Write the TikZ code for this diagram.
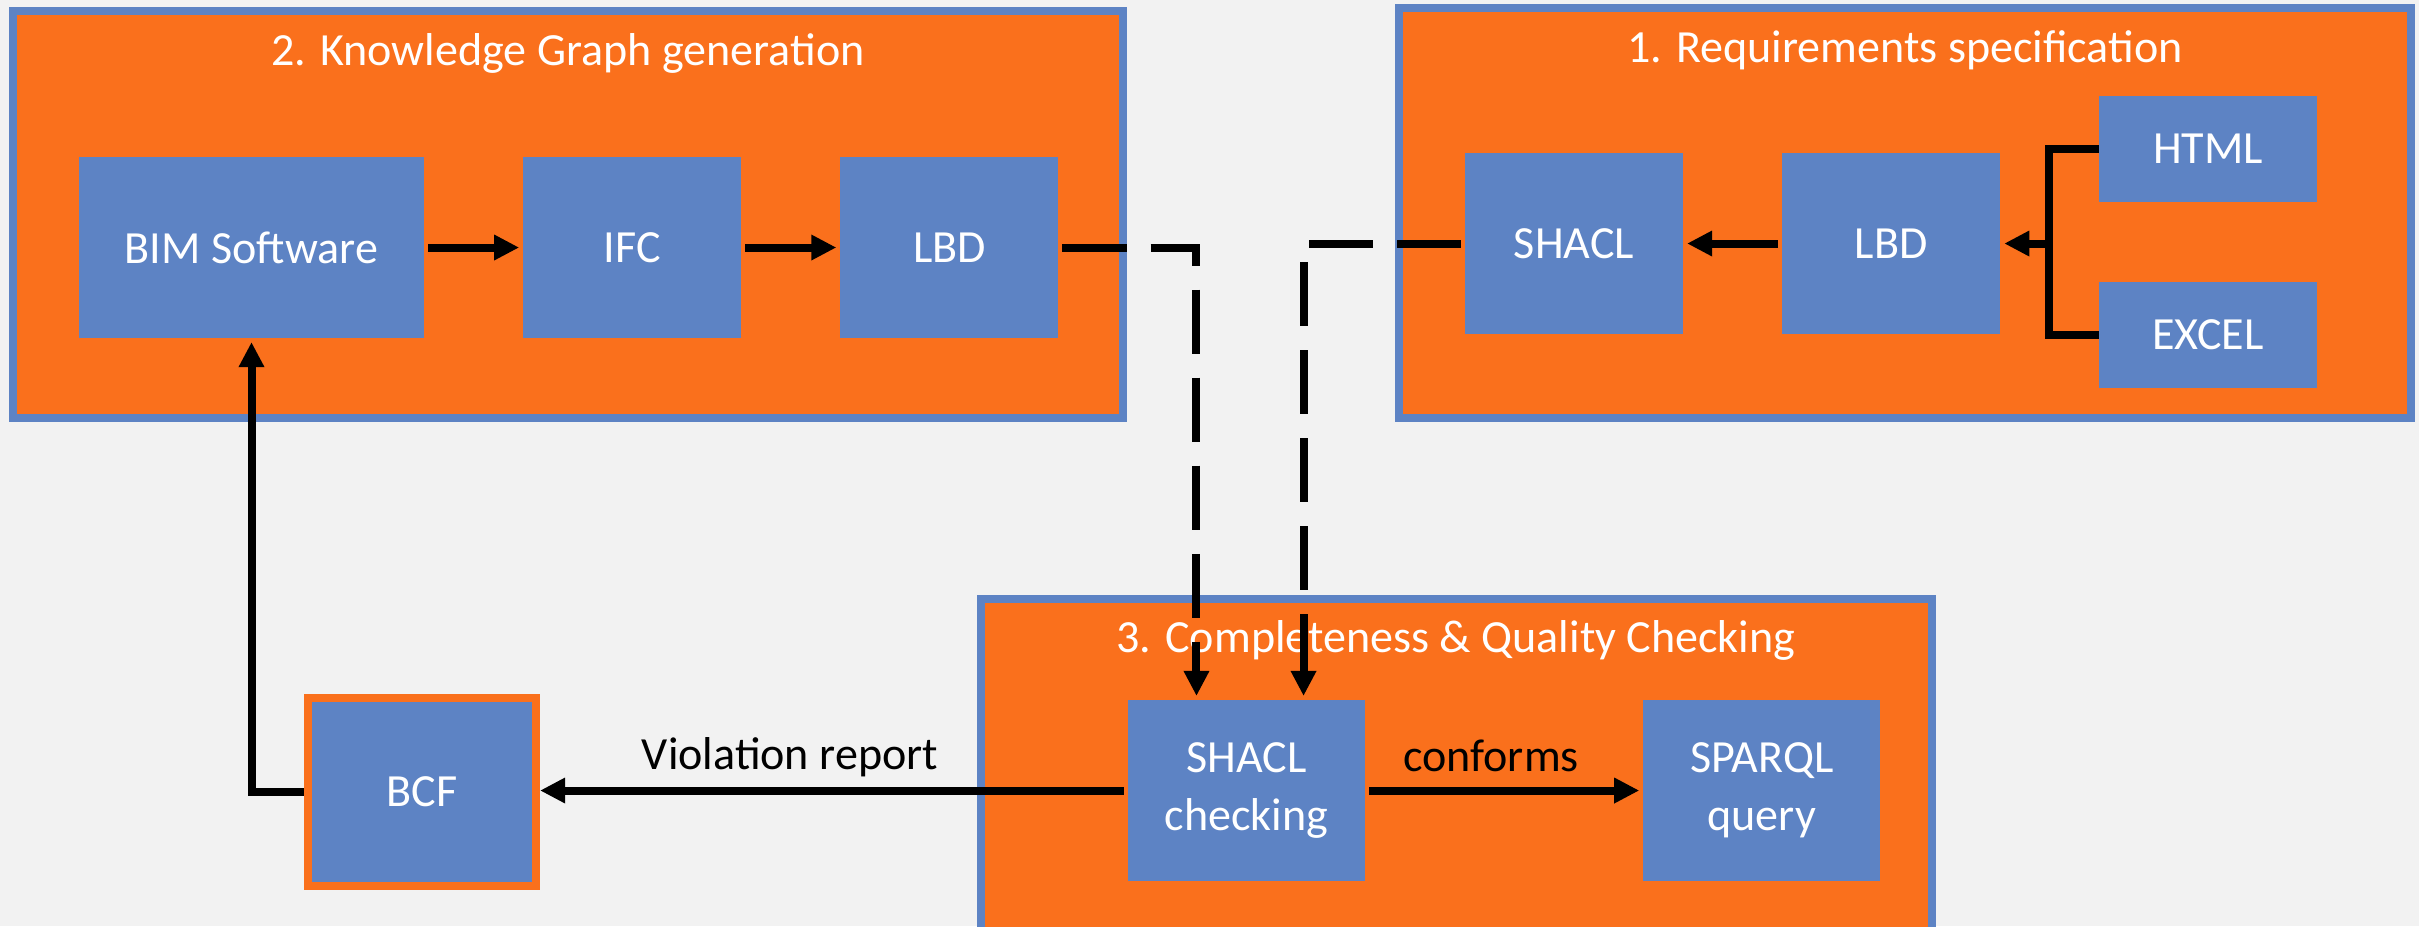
\documentclass[tikz,border=0pt]{standalone}
\usepackage{fontspec}
\setmainfont{Carlito}
\usepackage{xcolor}
\usepackage{tikz}
\usetikzlibrary{arrows.meta,positioning}
\definecolor{boxorange}{RGB}{250,112,28}
\definecolor{boxblue}{RGB}{93,131,196}
\definecolor{canvas}{RGB}{242,242,242}

\begin{document}
\begin{tikzpicture}[x = 0.01cm, y = -0.01cm, node distance = 0.99cm, font = \fontsize{13.1}{16.6}\selectfont]
        \tikzstyle{stage} = [rectangle, draw = boxblue, fill = boxorange, line width = 0.08cm, inner sep = 0]
        \tikzstyle{component} = [rectangle, fill = boxblue, text = white, align = center, inner sep = 0, outer sep = 0, minimum width = 2.18cm, minimum height = 1.81cm]
        \tikzstyle{stagetitle} = [text = white, anchor = base]
        \tikzstyle{flow} = [line width = 0.08cm, -{Triangle[length = 0.25cm, width = 0.24cm]}, shorten > = 0.04cm, shorten < = 0.04cm]
        \tikzstyle{link} = [flow, dash pattern = on 0.64cm off 0.24cm]
        \clip (0,0) rectangle (2419,926);
        \fill [canvas] (0,0) rectangle (2419,926);
        % stages
        \node at (568,214.5) (kgstage) [stage, minimum width = 11.10cm, minimum height = 4.07cm] {};
        \node at (1905,213) (reqstage) [stage, minimum width = 10.12cm, minimum height = 4.10cm] {};
        \node at (1456.5,799.5) (qcstage) [stage, minimum width = 9.51cm, minimum height = 4.01cm] {};
        \node at (568,65) (kgtitle) [stagetitle] {2. Knowledge Graph generation};
        \node at (1905,62) (reqtitle) [stagetitle] {1. Requirements specification};
        \node at (1456,652) (qctitle) [stagetitle] {3. Completeness \& Quality Checking};
        % components
        \node at (251.5,247.5) (bim) [component, minimum width = 3.45cm] {BIM Software};
        \node (ifc) [component, right = of bim] {IFC};
        \node (lbdkg) [component, right = of ifc] {LBD};
        \node at (1574,243.5) (shacl) [component] {SHACL};
        \node (lbdreq) [component, right = of shacl] {LBD};
        \node at (2208,149) (html) [component, minimum height = 1.06cm] {HTML};
        \node (excel) [component, minimum height = 1.06cm, below = 0.80cm of html] {EXCEL};
        \node at (1246.5,790.5) (shaclcheck) [component, minimum width = 2.37cm] {SHACL\\checking};
        \node (sparql) [component, minimum width = 2.37cm, right = 2.78cm of shaclcheck] {SPARQL\\query};
        \node at (422,792) (bcf) [component, minimum width = 2.28cm, minimum height = 1.88cm, draw = boxorange, line width = 0.08cm] {BCF};
        % connectors
        \draw [flow] (bim) -- (ifc);
        \draw [flow] (ifc) -- (lbdkg);
        \draw [flow] (lbdreq) -- (shacl);
        \draw [line width = 0.08cm] (html.west) -- ++(-50,0) coordinate (brk) -- (brk |- excel.west) -- (excel.west);
        \draw [flow, shorten < = 0pt] (brk |- lbdreq.east) -- (lbdreq.east);
        \draw [link] (lbdkg.east) -| ([xshift = -0.5cm] shaclcheck.north);
        \draw [link] (shacl.west) -| ([xshift = 0.57cm] shaclcheck.north);
        \draw [flow] (shaclcheck.west) -- (shaclcheck.west -| bcf.east) node [pos = 0.571, anchor = base, yshift = 0.21cm] (violation) {Violation report};
        \draw [flow] (shaclcheck.east) -- (sparql.west) node [pos = 0.453, anchor = base, yshift = 0.19cm] (conforms) {conforms};
        \draw [flow] (bcf.west) -| (bim.south);
    \end{tikzpicture}
\end{document}
